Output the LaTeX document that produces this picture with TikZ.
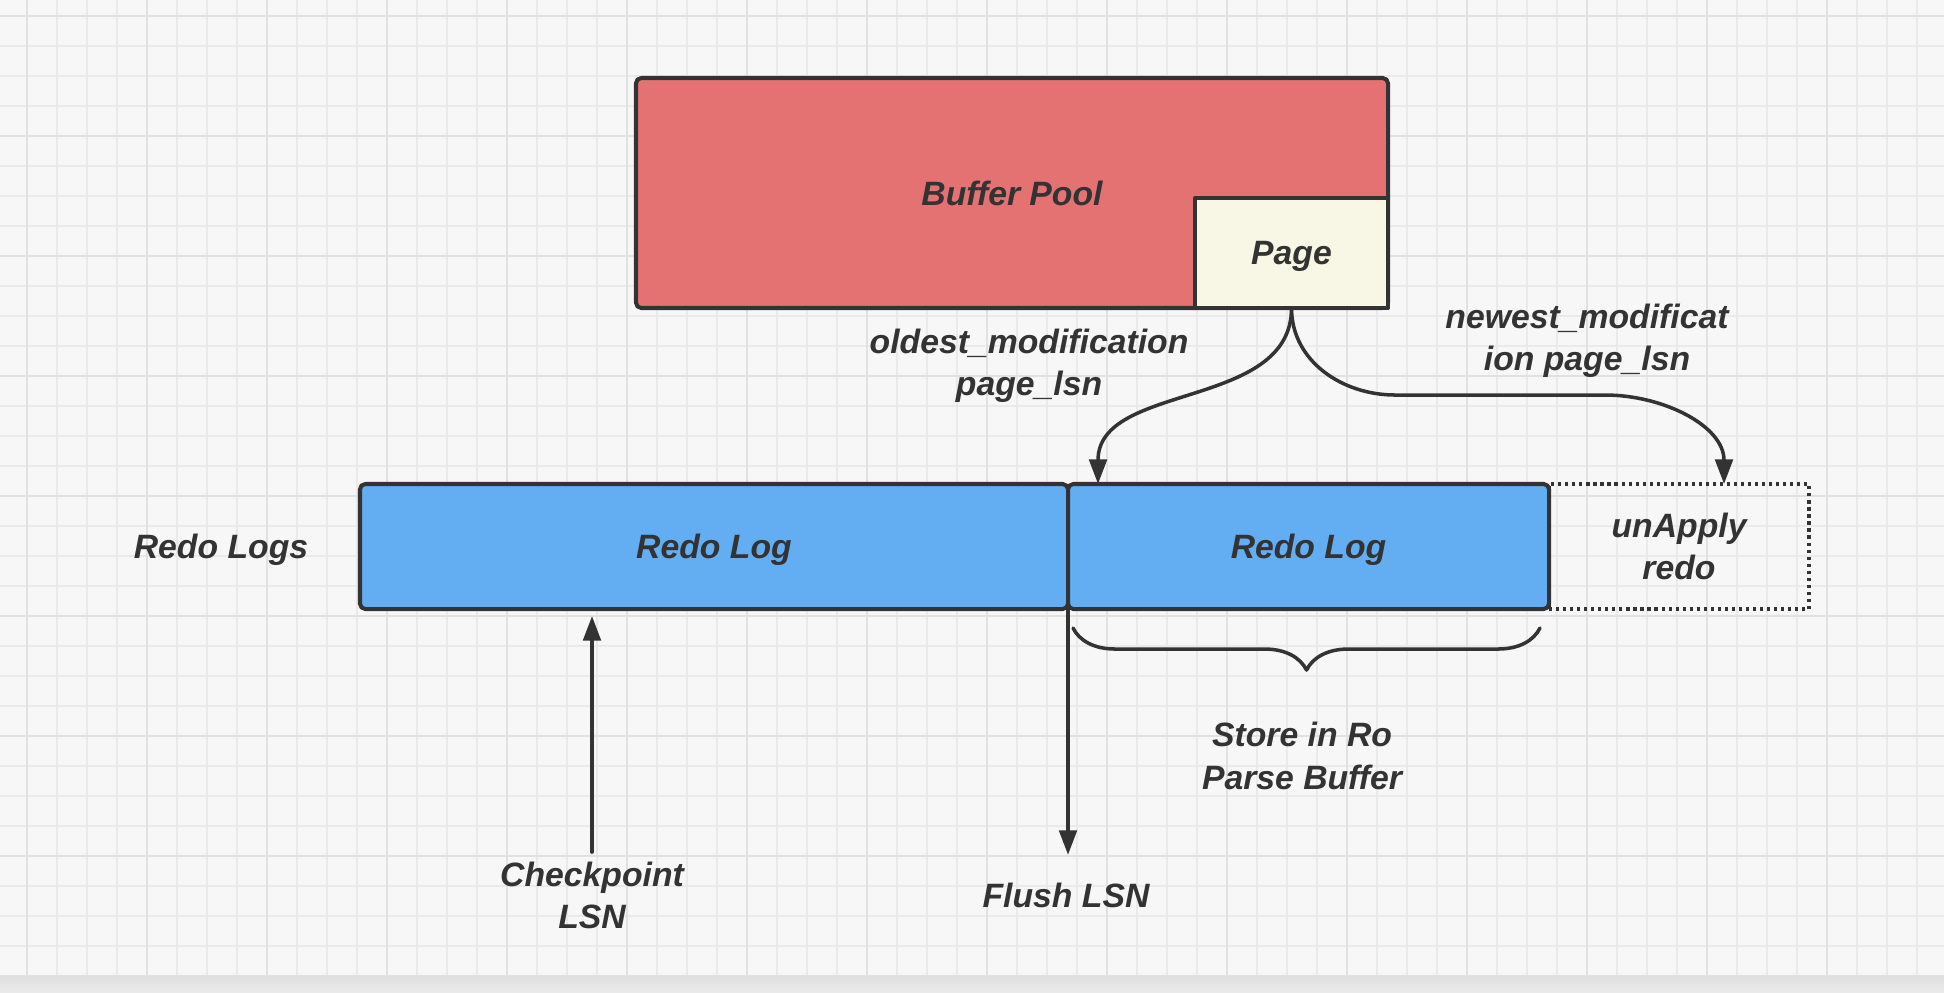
\documentclass[tikz,border=0pt]{standalone}
\usepackage{fontspec}
\setmainfont{Liberation Sans}
\usetikzlibrary{arrows.meta,positioning,decorations.pathreplacing}
\definecolor{poolred}{RGB}{229,114,114}
\definecolor{logblue}{RGB}{99,173,242}
\definecolor{pagecream}{RGB}{248,247,230}
\definecolor{ink}{RGB}{51,51,51}
\definecolor{paper}{RGB}{247,247,247}
\definecolor{gridlite}{RGB}{234,234,234}
\definecolor{griddark}{RGB}{225,225,225}
\definecolor{bandtop}{RGB}{222,222,222}
\definecolor{bandbot}{RGB}{234,234,234}

\begin{document}
\begin{tikzpicture}[line cap=round,line join=round,>={Triangle[length=7pt,width=5pt]},x=1.0cm,y=1.0cm,
		every node/.style={font=\fontsize{9.6}{12}\selectfont\bfseries\itshape,text=ink},
		poolbox/.style={draw=ink,line width=1.15pt,fill=poolred,rounded corners=1.5pt,minimum width=7.52cm,minimum height=2.30cm,inner sep=0pt,outer sep=0pt,text depth=0pt},
		pagebox/.style={draw=ink,line width=1.15pt,fill=pagecream,minimum width=1.93cm,minimum height=1.10cm,inner sep=0pt,outer sep=0pt,text depth=0pt},
		logbox/.style={draw=ink,line width=1.15pt,fill=logblue,rounded corners=1.5pt,minimum height=1.25cm,inner sep=0pt,outer sep=0pt,text depth=0pt},
		pendbox/.style={draw=ink,line width=1.15pt,line cap=butt,dash pattern=on 0.9pt off 1.1pt,minimum width=2.60cm,minimum height=1.25cm,inner sep=0pt,outer sep=0pt,align=center},
		lbl/.style={inner sep=1pt,align=center},
		wire/.style={draw=ink,line width=1pt}]
		\useasboundingbox (0,0) rectangle (19.44,-9.92);
		% paper and grid
		\fill[paper] (0,0) rectangle (19.44,-9.92);
		\draw[gridlite,line width=0.5pt,xshift=0.27cm,yshift=-0.16cm,step=0.3] (-0.27,0.16) grid (19.17,-9.76);
		\draw[griddark,line width=0.7pt,xshift=0.27cm,yshift=-0.16cm,step=1.2] (-0.27,0.16) grid (19.17,-9.76);
		\shade[top color=bandtop,bottom color=bandbot] (0,-9.76) rectangle (19.44,-9.92);
		% buffer pool
		\node[poolbox] (pool) at (10.12,-1.93) {Buffer Pool};
		\node[pagebox,anchor=south east] (page) at (pool.south east) {Page};
		% redo logs
		\node[lbl] (redologs) at (2.21,-5.50) {Redo Logs};
		\node[logbox,minimum width=7.08cm] (redo1) at (7.14,-5.465) {Redo Log};
		\node[logbox,minimum width=4.81cm,right=0pt of redo1] (redo2) {Redo Log};
		\node[pendbox,right=0pt of redo2] (unapply) {unApply\\redo};
		% labels
		\node[lbl] (oldest) at (10.29,-3.66) {oldest\_modification\\page\_lsn};
		\node[lbl] (newest) at (15.87,-3.41) {newest\_modificat\\ion page\_lsn};
		\node[lbl] (store) at (13.02,-7.56) {Store in Ro\\Parse Buffer};
		\node[lbl] (chk) at (5.92,-8.95) {Checkpoint\\LSN};
		\node[lbl] (flush) at (10.66,-8.95) {Flush LSN};
		% connectors
		\draw[wire,->] (page.south) to[out=-90,in=90] ([xshift=0.3cm]redo2.north west);
		\draw[wire,->] (page.south) to[out=-90,in=180] (13.95,-3.95) -- (16.05,-3.95) to[out=0,in=90] ([xshift=-0.85cm]unapply.north east);
		\draw[wire,->,shorten >=2pt] ([yshift=1.5pt]chk.north) -- (chk.north |- redo1.south);
		\draw[wire,->,shorten >=6.7pt] (redo1.south east) -- (redo1.south east |- flush.north);
		\draw[wire,decorate,decoration={brace,amplitude=0.42cm,mirror}] ([shift={(0.05,-0.19)}]redo2.south west) -- ([shift={(-0.09,-0.19)}]redo2.south east);
	\end{tikzpicture}
\end{document}
